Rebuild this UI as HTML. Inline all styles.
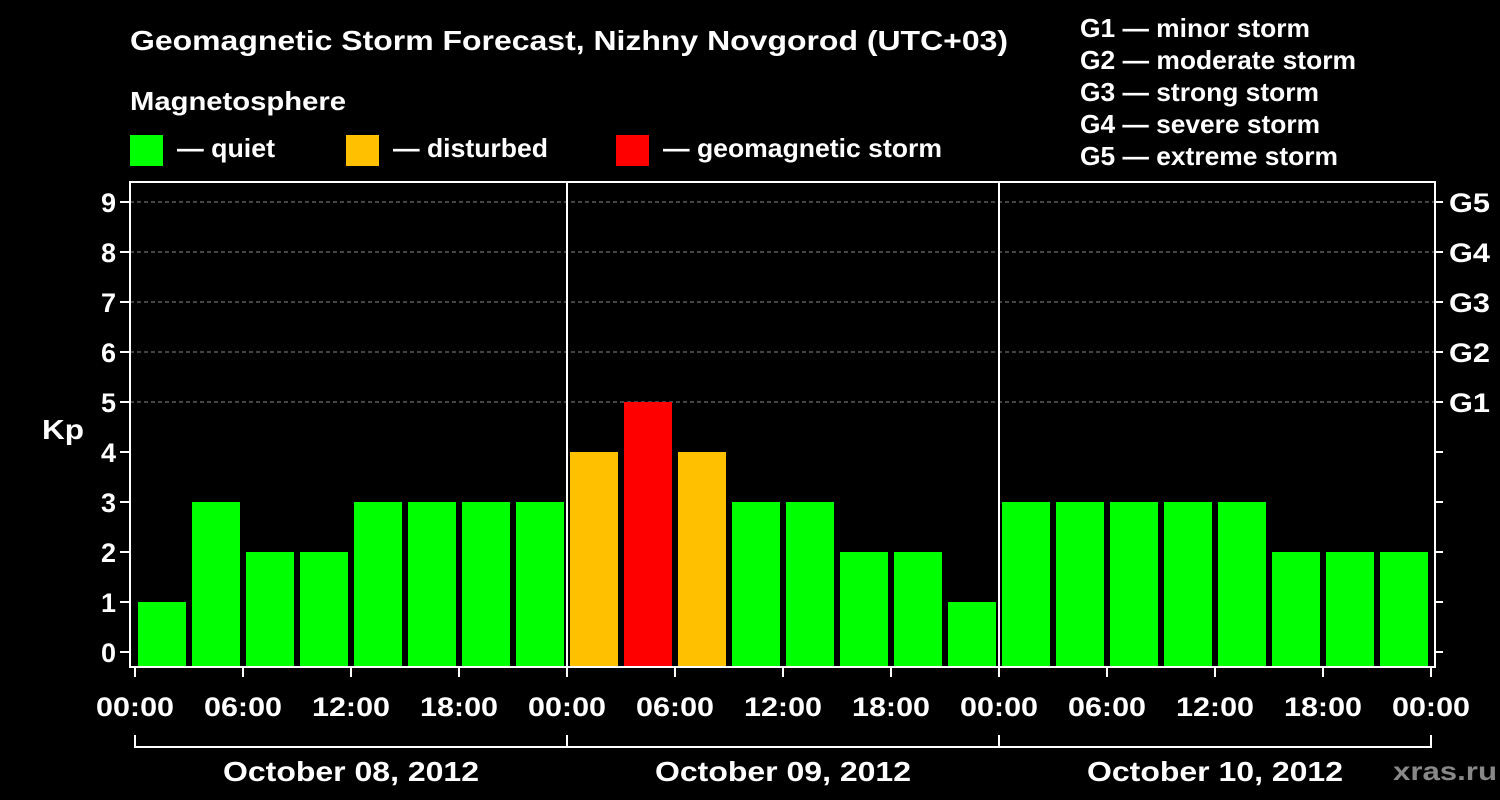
<!DOCTYPE html>
<html><head><meta charset="utf-8">
<style>
html,body{margin:0;padding:0;background:#000;}
svg{display:block;}
svg text{font-family:"Liberation Sans",Arial,sans-serif;font-weight:bold;}
</style></head>
<body>
<svg id="chart" width="1500" height="800" viewBox="0 0 1500 800" xmlns="http://www.w3.org/2000/svg">
<rect width="1500" height="800" fill="#000"/>
<text x="130" y="50" fill="#fff" font-size="28" textLength="878" lengthAdjust="spacingAndGlyphs">Geomagnetic Storm Forecast, Nizhny Novgorod (UTC+03)</text>
<text x="130" y="110" fill="#fff" font-size="26" textLength="216" lengthAdjust="spacingAndGlyphs">Magnetosphere</text>
<g><rect x="130" y="135" width="33" height="31" fill="#00ff00"/><text x="177" y="157" fill="#fff" font-size="26" textLength="98" lengthAdjust="spacingAndGlyphs">— quiet</text></g>
<g><rect x="346" y="135" width="33" height="31" fill="#ffc000"/><text x="393" y="157" fill="#fff" font-size="26" textLength="155" lengthAdjust="spacingAndGlyphs">— disturbed</text></g>
<g><rect x="616" y="135" width="33" height="31" fill="#ff0000"/><text x="663" y="157" fill="#fff" font-size="26" textLength="279" lengthAdjust="spacingAndGlyphs">— geomagnetic storm</text></g>
<g fill="#fff" font-size="26">
<text x="1080" y="37" textLength="230" lengthAdjust="spacingAndGlyphs">G1 — minor storm</text>
<text x="1080" y="69" textLength="276" lengthAdjust="spacingAndGlyphs">G2 — moderate storm</text>
<text x="1080" y="101" textLength="239" lengthAdjust="spacingAndGlyphs">G3 — strong storm</text>
<text x="1080" y="133" textLength="240" lengthAdjust="spacingAndGlyphs">G4 — severe storm</text>
<text x="1080" y="165" textLength="258" lengthAdjust="spacingAndGlyphs">G5 — extreme storm</text>
</g>
<text x="42" y="439" fill="#fff" font-size="28" textLength="42" lengthAdjust="spacingAndGlyphs">Kp</text>
<g id="grid"></g>
<g id="bars"></g>
<rect x="130" y="182" width="1305" height="485" fill="none" stroke="#fff" stroke-width="2"/>
<g id="axes"></g>
<text x="1393" y="780" fill="#888" font-size="26" textLength="104" lengthAdjust="spacingAndGlyphs">xras.ru</text>
</svg>
<script>
const kpValues = [1,3,2,2,3,3,3,3, 4,5,4,3,3,2,2,1, 3,3,3,3,3,2,2,2];
const days = ["October 08, 2012","October 09, 2012","October 10, 2012"];
const timeLabels = ["00:00","06:00","12:00","18:00"];
const yTicks = [0,1,2,3,4,5,6,7,8,9];
const gLabels = ["G1","G2","G3","G4","G5"];

const NS="http://www.w3.org/2000/svg";
const x0=135, hourPx=18, y0=652, unitPx=50, plotBottom=667;
const xScale=h=>x0+h*hourPx;
const yScale=v=>y0-v*unitPx;
function mk(tag,attrs,parent){const e=document.createElementNS(NS,tag);for(const k in attrs)e.setAttribute(k,attrs[k]);parent.appendChild(e);return e;}
const grid=document.getElementById('grid'), bars=document.getElementById('bars'), axes=document.getElementById('axes');
const totalH=days.length*24;

for(let v=5; v<=9; v++){
  const l=mk('line',{x1:130,x2:1435,y1:yScale(v),y2:yScale(v),stroke:'#888','stroke-dasharray':'4,3','stroke-width':1},grid);
  
  
}
kpValues.forEach((v,i)=>{
  const c=v>=5?'#ff0000':(v>=4?'#ffc000':'#00ff00');
  const r=mk('rect',{x:xScale(i*3)+3,y:yScale(v),width:48,height:plotBottom-yScale(v),fill:c},bars);
  
  
});
for(let d=1; d<days.length; d++){
  const l=mk('line',{x1:xScale(d*24),x2:xScale(d*24),y1:182,y2:667,stroke:'#fff','stroke-width':2},axes);
  
  
}
yTicks.forEach(v=>{
  const y=yScale(v);
  mk('line',{x1:120,x2:130,y1:y,y2:y,stroke:'#fff','stroke-width':2},axes);
  mk('line',{x1:1435,x2:1443,y1:y,y2:y,stroke:'#fff','stroke-width':2},axes);
  const t=mk('text',{x:116,y:y+10,fill:'#fff','font-size':27,'text-anchor':'end'},axes);
  t.textContent=v;
  
  
  if(v>=5){
    const g=mk('text',{x:1449,y:y+10,fill:'#fff','font-size':27,textLength:41,lengthAdjust:'spacingAndGlyphs'},axes);
    g.textContent=gLabels[v-5];
    
    
  }
});
for(let h=0; h<=totalH; h+=6){
  const x=xScale(h);
  mk('line',{x1:x,x2:x,y1:667,y2:677,stroke:'#fff','stroke-width':2},axes);
  const t=mk('text',{x:x-39,y:716,fill:'#fff','font-size':27,textLength:78,lengthAdjust:'spacingAndGlyphs'},axes);
  t.textContent=timeLabels[(h/6)%4];
  
  
}
mk('line',{x1:xScale(0),x2:xScale(totalH),y1:747,y2:747,stroke:'#fff','stroke-width':2},axes);
for(let d=0; d<=days.length; d++){
  mk('line',{x1:xScale(d*24),x2:xScale(d*24),y1:735,y2:748,stroke:'#fff','stroke-width':2},axes);
}
days.forEach((s,d)=>{
  const t=mk('text',{x:xScale(d*24+12)-128,y:781,fill:'#fff','font-size':28,textLength:256,lengthAdjust:'spacingAndGlyphs'},axes);
  t.textContent=s;
  
  
});
</script>
</body></html>
